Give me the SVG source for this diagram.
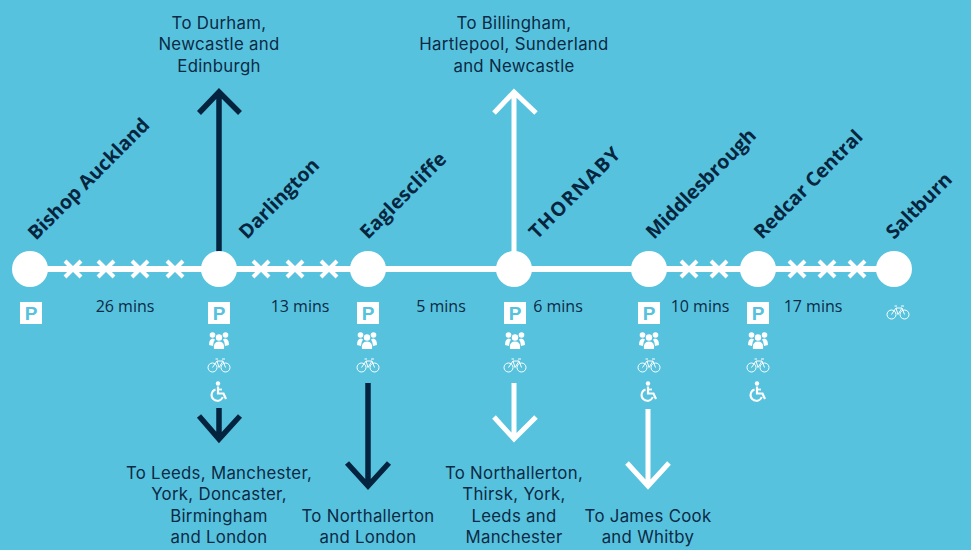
<svg xmlns="http://www.w3.org/2000/svg" xmlns:xlink="http://www.w3.org/1999/xlink" width="971" height="550" viewBox="0 0 971 550">
<style>
text{font-family:"Open Sans","Noto Sans","Liberation Sans",sans-serif;fill:#0b2a45}
.st{font-weight:700;font-size:19.500px;fill:#06263f}
.lb{font-family:Inter,"Liberation Sans",sans-serif;font-size:16.800px;letter-spacing:.3px;text-anchor:middle}
.tm{font-size:16px;text-anchor:middle}
.pt{font-family:"Liberation Sans",sans-serif;font-weight:700;font-size:19px;text-anchor:middle;fill:#57c2de}
.line{stroke:#fff;stroke-width:6;fill:none}
.x{stroke:#fff;stroke-width:4;fill:none}
.dk{stroke:#03233f;stroke-width:5.500;fill:none}
.wh{stroke:#fff;stroke-width:5;fill:none}
.thin{stroke:#fff;stroke-width:1;fill:none}
</style>
<defs>
<g id="cross"><path class="x" d="M-8-8L8 8M-8 8L8-8"/></g>
<g id="park"><rect x="-11" y="-11" width="22" height="22" fill="#fff"/><text class="pt" y="7">P</text></g>
<g id="people" fill="#fff"><circle cx="-6.500" cy="-6" r="2.800"/><circle cx="6.500" cy="-6" r="2.800"/><circle cx="0" cy="-3.500" r="3.200"/><path d="M-10 4Q-10-2.500-6-2.500L-4-1.500Q-6 1-6 5ZM10 4Q10-2.500 6-2.500L4-1.500Q6 1 6 5ZM-5 8Q-6 0.500 0 0.500Q6 0.500 5 8Z"/></g>
<g id="bike"><circle class="thin" cx="-6.500" cy="2.500" r="4.500"/><circle class="thin" cx="6.500" cy="2.500" r="4.500"/><path class="thin" d="M-6.500 2.500L-2-4H4L6.500 2.500M-2-4L0 2.500L4-4M-3.500-6H-1M3-6H6"/></g>
<g id="wheel"><circle cx="0" cy="-7.500" r="2.200" fill="#fff"/><path d="M0-4.500V2.500H5.500L8 8" stroke="#fff" stroke-width="2.200" fill="none"/><path d="M0-1.500H4" stroke="#fff" stroke-width="1.800" fill="none"/><path d="M-2.500-1.500A5.800 5.800 0 1 0 4.800 6" stroke="#fff" stroke-width="2" fill="none"/></g>
</defs>
<rect width="971" height="550" fill="#57c2de"/>
<g id="connectors">
<path class="line" d="M30 269H894"/>
<use xlink:href="#cross" x="73" y="269"/><use xlink:href="#cross" x="106" y="269"/><use xlink:href="#cross" x="140" y="269"/><use xlink:href="#cross" x="175" y="269"/>
<use xlink:href="#cross" x="261" y="269"/><use xlink:href="#cross" x="295" y="269"/><use xlink:href="#cross" x="329" y="269"/>
<use xlink:href="#cross" x="689" y="269"/><use xlink:href="#cross" x="719" y="269"/>
<use xlink:href="#cross" x="797" y="269"/><use xlink:href="#cross" x="827" y="269"/><use xlink:href="#cross" x="857" y="269"/>
<path class="dk" d="M219 252V92M199 113L219 92L240 113"/>
<path class="wh" d="M514 252V92M494 113L514 92L536 113"/>
<path class="dk" d="M219 408V439M199 416L219 439L240 416"/>
<path class="dk" d="M368 383V486M347 463L368 486L389 463"/>
<path class="wh" d="M514 383V439M494 417L514 439L536 417"/>
<path class="wh" d="M648 409V486M627 463L648 486L669 463"/>
</g>
<g id="bishop-auckland"><circle cx="30" cy="269" r="18" fill="#fff"/><text class="st" transform="translate(36 241) rotate(-45)">Bishop Auckland</text><use xlink:href="#park" x="31" y="313"/></g>
<g id="darlington"><circle cx="219" cy="269" r="18" fill="#fff"/><text class="st" transform="translate(247 240) rotate(-45)">Darlington</text><use xlink:href="#park" x="219" y="313"/><use xlink:href="#people" x="219" y="341"/><use xlink:href="#bike" x="219" y="365"/><use xlink:href="#wheel" x="218" y="391"/></g>
<g id="eaglescliffe"><circle cx="368" cy="269" r="18" fill="#fff"/><text class="st" transform="translate(368 240) rotate(-45)" letter-spacing="0.300">Eaglescliffe</text><use xlink:href="#park" x="368" y="313"/><use xlink:href="#people" x="367" y="341"/><use xlink:href="#bike" x="368" y="365"/></g>
<g id="thornaby"><circle cx="514" cy="269" r="18" fill="#fff"/><text class="st" transform="translate(537 240) rotate(-45)" letter-spacing="1.500">THORNABY</text><use xlink:href="#park" x="515" y="313"/><use xlink:href="#people" x="515" y="341"/><use xlink:href="#bike" x="515" y="365"/></g>
<g id="middlesbrough"><circle cx="649" cy="269" r="18" fill="#fff"/><text class="st" transform="translate(654 240) rotate(-45)">Middlesbrough</text><use xlink:href="#park" x="649" y="313"/><use xlink:href="#people" x="649" y="341"/><use xlink:href="#bike" x="649" y="365"/><use xlink:href="#wheel" x="648" y="391"/></g>
<g id="redcar-central"><circle cx="758" cy="269" r="18" fill="#fff"/><text class="st" transform="translate(762 240) rotate(-45)">Redcar Central</text><use xlink:href="#park" x="758" y="313"/><use xlink:href="#people" x="758" y="341"/><use xlink:href="#bike" x="758" y="365"/><use xlink:href="#wheel" x="757" y="391"/></g>
<g id="saltburn"><circle cx="894" cy="269" r="18" fill="#fff"/><text class="st" transform="translate(894 240) rotate(-45)">Saltburn</text><use xlink:href="#bike" x="898" y="312"/></g>
<g id="times">
<text class="tm" x="125" y="312">26 mins</text>
<text class="tm" x="300" y="312">13 mins</text>
<text class="tm" x="441" y="312">5 mins</text>
<text class="tm" x="558" y="312">6 mins</text>
<text class="tm" x="700" y="312">10 mins</text>
<text class="tm" x="813" y="312">17 mins</text>
</g>
<g id="destinations">
<text class="lb"><tspan x="219" y="28.500">To Durham,</tspan><tspan x="219" y="50">Newcastle and</tspan><tspan x="219" y="71.500">Edinburgh</tspan></text>
<text class="lb"><tspan x="514" y="28.500">To Billingham,</tspan><tspan x="514" y="50">Hartlepool, Sunderland</tspan><tspan x="514" y="71.500">and Newcastle</tspan></text>
<text class="lb"><tspan x="219" y="478.500">To Leeds, Manchester,</tspan><tspan x="219" y="500">York, Doncaster,</tspan><tspan x="219" y="521.500">Birmingham</tspan><tspan x="219" y="543">and London</tspan></text>
<text class="lb"><tspan x="368" y="521.500">To Northallerton</tspan><tspan x="368" y="543">and London</tspan></text>
<text class="lb"><tspan x="514" y="478.500">To Northallerton,</tspan><tspan x="514" y="500">Thirsk, York,</tspan><tspan x="514" y="521.500">Leeds and</tspan><tspan x="514" y="543">Manchester</tspan></text>
<text class="lb"><tspan x="648" y="521.500">To James Cook</tspan><tspan x="648" y="543">and Whitby</tspan></text>
</g>
</svg>
